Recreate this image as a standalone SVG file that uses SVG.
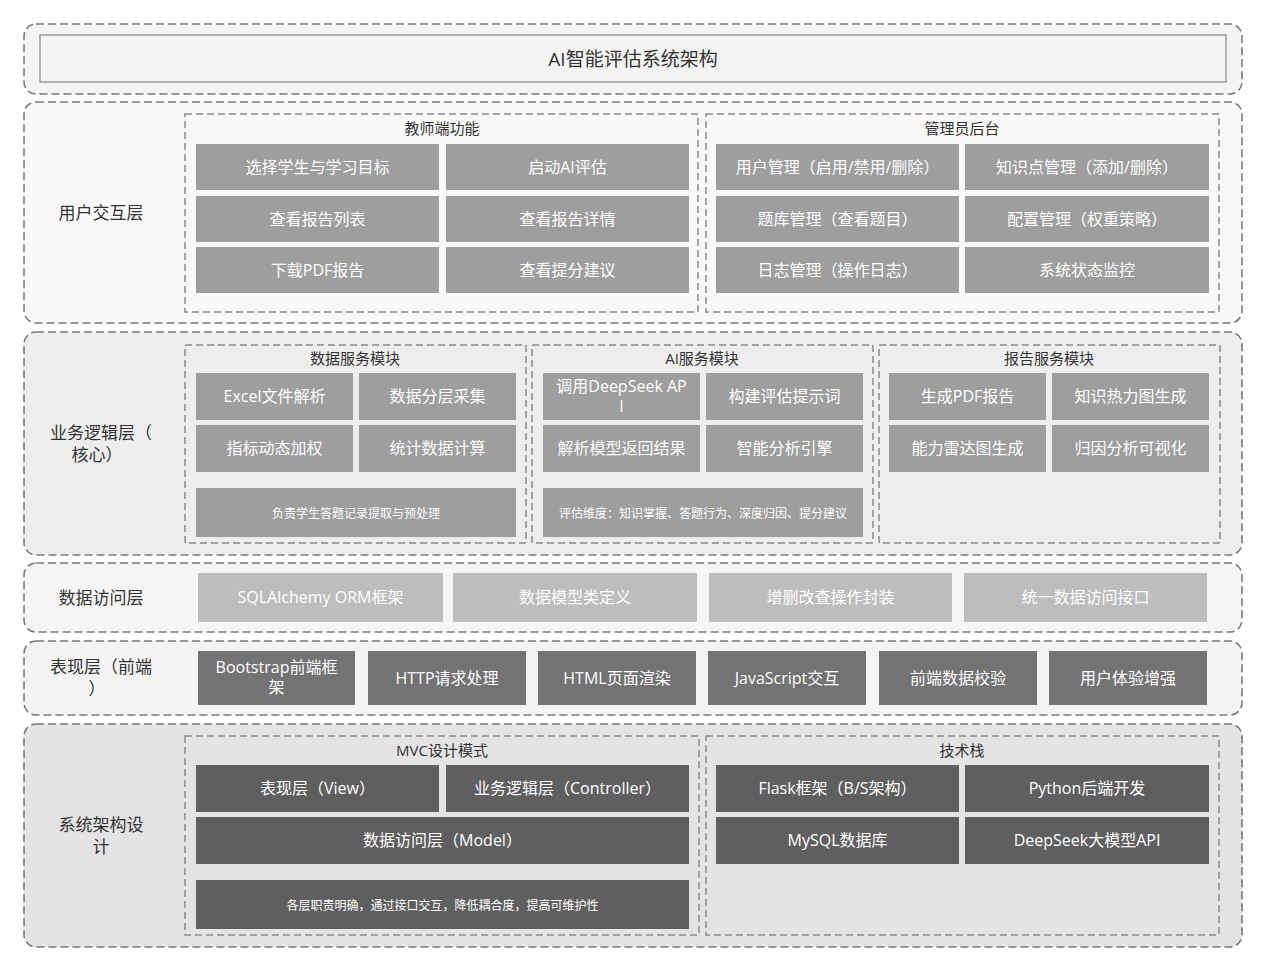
<svg xmlns="http://www.w3.org/2000/svg" width="1267" height="980" viewBox="0 0 1267 980">
<style>
text{font-family:"Open Sans","Noto Sans CJK SC",sans-serif;text-anchor:middle;dominant-baseline:central}
.layer{stroke:#7a7a7a;stroke-width:1.6;stroke-dasharray:8 4}
.sub{fill:none;stroke:#8a8a8a;stroke-width:1.5;stroke-dasharray:7 4}
.lbl{font-size:17px;fill:#333}
.mt{font-size:15px;fill:#333}
.bt{font-size:16px;fill:#fff}
.st{font-size:12px;fill:#fff}
.g1{fill:#9e9e9e}.g2{fill:#bdbdbd}.g3{fill:#737373}.g4{fill:#5f5f5f}
</style>
<rect width="1267" height="980" fill="#fff"/>
<g id="title">
<rect class="layer" x="24" y="24" width="1218" height="70" rx="12" fill="#f4f4f4"/>
<rect x="40" y="35" width="1186" height="47" fill="#f4f4f4" stroke="#888" stroke-width="1.2"/>
<text x="633" y="59" style="font-size:19px;fill:#333">AI智能评估系统架构</text>
</g>
<g id="user-layer">
<rect class="layer" x="24" y="102" width="1218" height="221" rx="12" fill="#f9f9f9"/>
<text class="lbl" x="101" y="212">用户交互层</text>
<g id="teacher">
<rect class="sub" x="185" y="114" width="513" height="198"/>
<text class="mt" x="442" y="128">教师端功能</text>
<rect class="g1" x="196" y="144" width="243" height="46"/><text class="bt" x="317.5" y="167">选择学生与学习目标</text>
<rect class="g1" x="446" y="144" width="243" height="46"/><text class="bt" x="567.5" y="167">启动AI评估</text>
<rect class="g1" x="196" y="196" width="243" height="46"/><text class="bt" x="317.5" y="219">查看报告列表</text>
<rect class="g1" x="446" y="196" width="243" height="46"/><text class="bt" x="567.5" y="219">查看报告详情</text>
<rect class="g1" x="196" y="247" width="243" height="46"/><text class="bt" x="317.5" y="270">下载PDF报告</text>
<rect class="g1" x="446" y="247" width="243" height="46"/><text class="bt" x="567.5" y="270">查看提分建议</text>
</g>
<g id="admin">
<rect class="sub" x="706" y="114" width="513" height="198"/>
<text class="mt" x="962" y="128">管理员后台</text>
<rect class="g1" x="716" y="144" width="243" height="46"/><text class="bt" x="837.5" y="167">用户管理（启用/禁用/删除）</text>
<rect class="g1" x="965" y="144" width="244" height="46"/><text class="bt" x="1087" y="167">知识点管理（添加/删除）</text>
<rect class="g1" x="716" y="196" width="243" height="46"/><text class="bt" x="837.5" y="219">题库管理（查看题目）</text>
<rect class="g1" x="965" y="196" width="244" height="46"/><text class="bt" x="1087" y="219">配置管理（权重策略）</text>
<rect class="g1" x="716" y="247" width="243" height="46"/><text class="bt" x="837.5" y="270">日志管理（操作日志）</text>
<rect class="g1" x="965" y="247" width="244" height="46"/><text class="bt" x="1087" y="270">系统状态监控</text>
</g>
</g>
<g id="business-layer">
<rect class="layer" x="24" y="332" width="1218" height="223" rx="12" fill="#eeeeee"/>
<text class="lbl" x="101" y="432">业务逻辑层（</text>
<text class="lbl" x="97" y="454">核心）</text>
<g id="data-service">
<rect class="sub" x="185" y="345" width="341" height="198"/>
<text class="mt" x="355" y="358">数据服务模块</text>
<rect class="g1" x="196" y="373" width="157" height="47"/><text class="bt" x="274.5" y="396">Excel文件解析</text>
<rect class="g1" x="359" y="373" width="157" height="47"/><text class="bt" x="437.5" y="396">数据分层采集</text>
<rect class="g1" x="196" y="425" width="157" height="47"/><text class="bt" x="274.5" y="448">指标动态加权</text>
<rect class="g1" x="359" y="425" width="157" height="47"/><text class="bt" x="437.5" y="448">统计数据计算</text>
<rect class="g1" x="196" y="488" width="320" height="49"/><text class="st" x="356" y="513">负责学生答题记录提取与预处理</text>
</g>
<g id="ai-service">
<rect class="sub" x="532" y="345" width="341" height="198"/>
<text class="mt" x="702" y="358">AI服务模块</text>
<rect class="g1" x="543" y="373" width="157" height="47"/><text class="bt" x="621.5" y="386">调用DeepSeek AP</text><text class="bt" x="621.5" y="406">I</text>
<rect class="g1" x="706" y="373" width="157" height="47"/><text class="bt" x="784.5" y="396">构建评估提示词</text>
<rect class="g1" x="543" y="425" width="157" height="47"/><text class="bt" x="621.5" y="448">解析模型返回结果</text>
<rect class="g1" x="706" y="425" width="157" height="47"/><text class="bt" x="784.5" y="448">智能分析引擎</text>
<rect class="g1" x="543" y="488" width="320" height="49"/><text class="st" x="703" y="513">评估维度：知识掌握、答题行为、深度归因、提分建议</text>
</g>
<g id="report-service">
<rect class="sub" x="879" y="345" width="341" height="198"/>
<text class="mt" x="1049" y="358">报告服务模块</text>
<rect class="g1" x="889" y="373" width="157" height="47"/><text class="bt" x="967.5" y="396">生成PDF报告</text>
<rect class="g1" x="1052" y="373" width="157" height="47"/><text class="bt" x="1130.5" y="396">知识热力图生成</text>
<rect class="g1" x="889" y="425" width="157" height="47"/><text class="bt" x="967.5" y="448">能力雷达图生成</text>
<rect class="g1" x="1052" y="425" width="157" height="47"/><text class="bt" x="1130.5" y="448">归因分析可视化</text>
</g>
</g>
<g id="data-access-layer">
<rect class="layer" x="24" y="563" width="1218" height="69" rx="12" fill="#f5f5f5"/>
<text class="lbl" x="101" y="597">数据访问层</text>
<rect class="g2" x="198" y="573" width="245" height="49"/><text class="bt" x="320.5" y="597">SQLAlchemy ORM框架</text>
<rect class="g2" x="453" y="573" width="244" height="49"/><text class="bt" x="575" y="597">数据模型类定义</text>
<rect class="g2" x="709" y="573" width="243" height="49"/><text class="bt" x="830.5" y="597">增删改查操作封装</text>
<rect class="g2" x="964" y="573" width="243" height="49"/><text class="bt" x="1085.5" y="597">统一数据访问接口</text>
</g>
<g id="presentation-layer">
<rect class="layer" x="24" y="641" width="1218" height="74" rx="12" fill="#f4f4f4"/>
<text class="lbl" x="101" y="666">表现层（前端</text>
<text class="lbl" x="97" y="688">）</text>
<rect class="g3" x="198" y="651" width="157" height="54"/><text class="bt" x="276.5" y="667">Bootstrap前端框</text><text class="bt" x="276.5" y="687">架</text>
<rect class="g3" x="368" y="651" width="158" height="54"/><text class="bt" x="447" y="678">HTTP请求处理</text>
<rect class="g3" x="538" y="651" width="158" height="54"/><text class="bt" x="617" y="678">HTML页面渲染</text>
<rect class="g3" x="708" y="651" width="158" height="54"/><text class="bt" x="787" y="678">JavaScript交互</text>
<rect class="g3" x="879" y="651" width="158" height="54"/><text class="bt" x="958" y="678">前端数据校验</text>
<rect class="g3" x="1049" y="651" width="158" height="54"/><text class="bt" x="1128" y="678">用户体验增强</text>
</g>
<g id="system-layer">
<rect class="layer" x="24" y="724" width="1218" height="223" rx="12" fill="#e4e4e4"/>
<text class="lbl" x="101" y="824">系统架构设</text>
<text class="lbl" x="101" y="846">计</text>
<g id="mvc">
<rect class="sub" x="185" y="736" width="514" height="199"/>
<text class="mt" x="442" y="750">MVC设计模式</text>
<rect class="g4" x="196" y="765" width="243" height="47"/><text class="bt" x="317.5" y="788">表现层（View）</text>
<rect class="g4" x="446" y="765" width="243" height="47"/><text class="bt" x="567.5" y="788">业务逻辑层（Controller）</text>
<rect class="g4" x="196" y="817" width="493" height="47"/><text class="bt" x="442.5" y="840">数据访问层（Model）</text>
<rect class="g4" x="196" y="880" width="493" height="49"/><text class="st" x="442.5" y="905">各层职责明确，通过接口交互，降低耦合度，提高可维护性</text>
</g>
<g id="tech">
<rect class="sub" x="706" y="736" width="513" height="199"/>
<text class="mt" x="962" y="750">技术栈</text>
<rect class="g4" x="716" y="765" width="243" height="47"/><text class="bt" x="837.5" y="788">Flask框架（B/S架构）</text>
<rect class="g4" x="965" y="765" width="244" height="47"/><text class="bt" x="1087" y="788">Python后端开发</text>
<rect class="g4" x="716" y="817" width="243" height="47"/><text class="bt" x="837.5" y="840">MySQL数据库</text>
<rect class="g4" x="965" y="817" width="244" height="47"/><text class="bt" x="1087" y="840">DeepSeek大模型API</text>
</g>
</g>
<g id="connectors"/>
</svg>
